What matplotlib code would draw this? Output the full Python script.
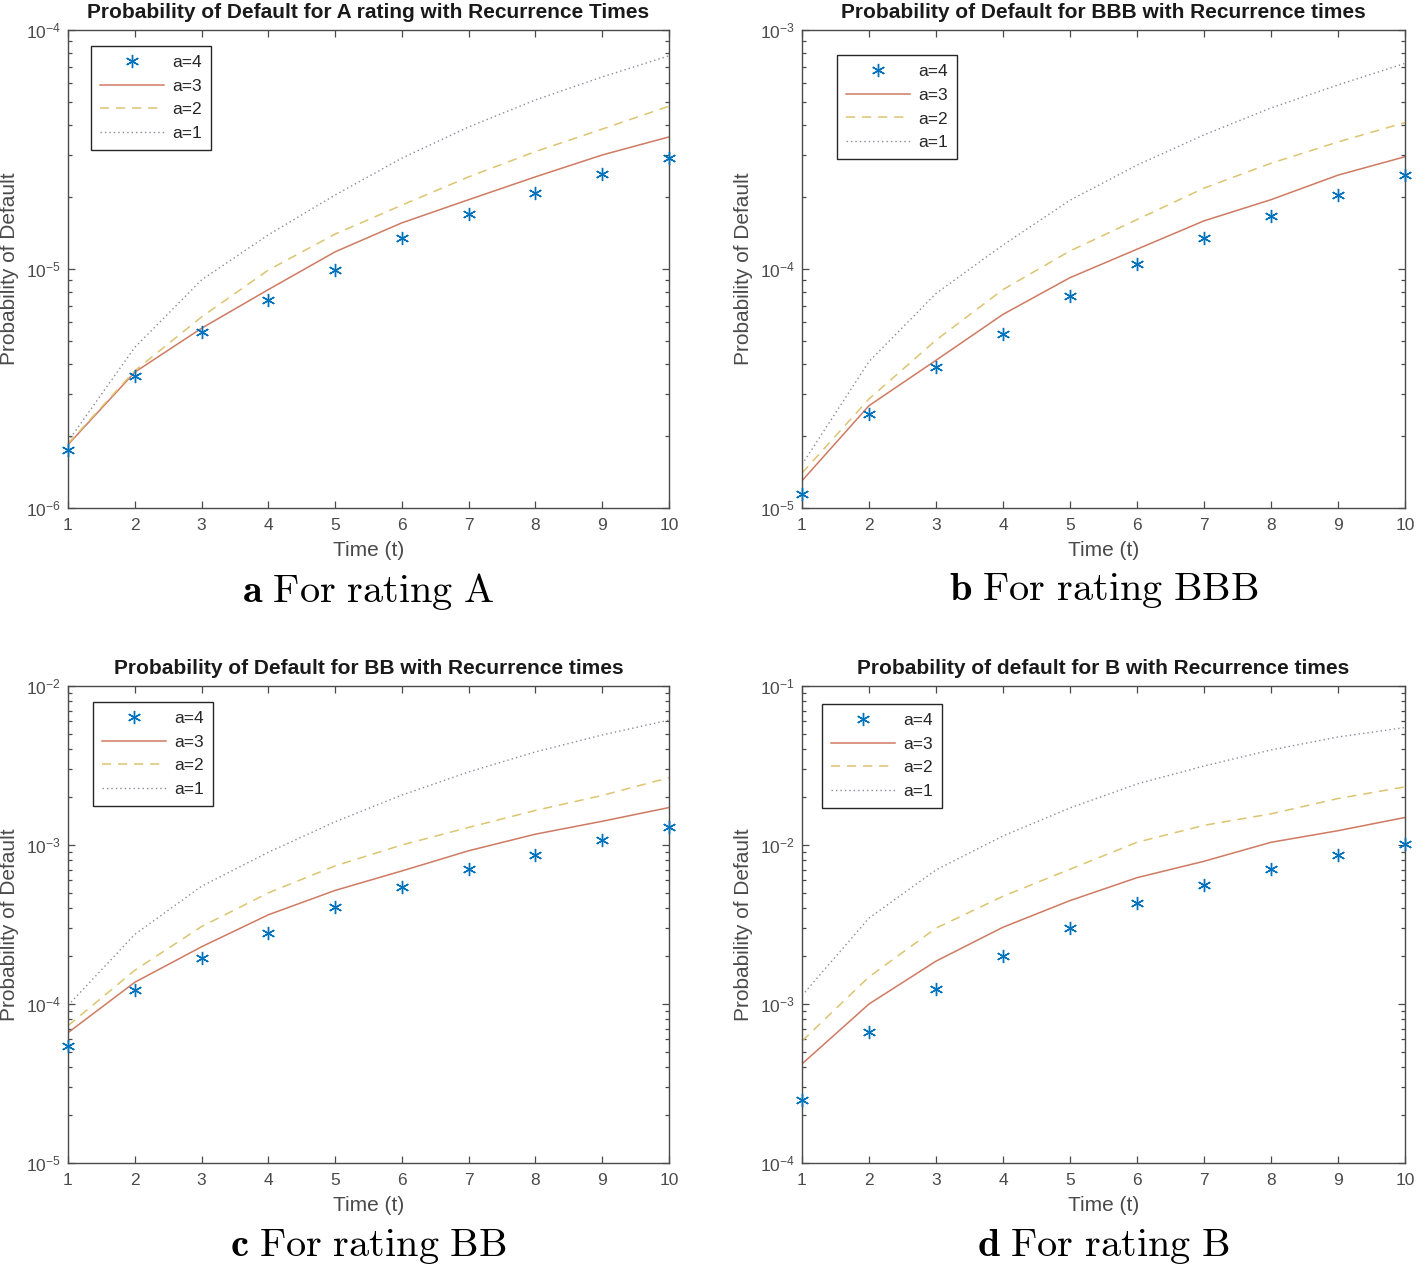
import numpy as np
import matplotlib.pyplot as plt
from matplotlib.ticker import LogLocator, NullFormatter

plt.rcParams['font.family'] = ['Liberation Sans', 'DejaVu Sans']
plt.rcParams['mathtext.default'] = 'regular'

# Time axis
t = np.arange(1, 11)

# Panel a: rating A
a_a4 = [1.75e-6, 3.55e-6, 5.45e-6, 7.4e-6, 9.95e-6, 1.35e-5, 1.7e-5, 2.07e-5, 2.5e-5, 2.92e-5]
a_a3 = [1.84e-6, 3.7e-6, 5.65e-6, 8.2e-6, 1.18e-5, 1.56e-5, 1.95e-5, 2.43e-5, 3.0e-5, 3.57e-5]
a_a2 = [1.86e-6, 3.75e-6, 6.3e-6, 9.9e-6, 1.4e-5, 1.85e-5, 2.43e-5, 3.1e-5, 3.85e-5, 4.8e-5]
a_a1 = [1.9e-6, 4.7e-6, 9.0e-6, 1.39e-5, 2.04e-5, 2.91e-5, 3.93e-5, 5.1e-5, 6.36e-5, 7.8e-5]

# Panel b: rating BBB
b_a4 = [1.14e-5, 2.47e-5, 3.88e-5, 5.35e-5, 7.7e-5, 1.05e-4, 1.35e-4, 1.67e-4, 2.04e-4, 2.47e-4]
b_a3 = [1.3e-5, 2.68e-5, 4.15e-5, 6.46e-5, 9.2e-5, 1.21e-4, 1.59e-4, 1.95e-4, 2.47e-4, 2.95e-4]
b_a2 = [1.4e-5, 2.86e-5, 5.04e-5, 8.2e-5, 1.19e-4, 1.61e-4, 2.18e-4, 2.77e-4, 3.4e-4, 4.1e-4]
b_a1 = [1.52e-5, 4.1e-5, 7.9e-5, 1.26e-4, 1.94e-4, 2.72e-4, 3.64e-4, 4.72e-4, 5.89e-4, 7.25e-4]

# Panel c: rating BB
c_a4 = [5.45e-5, 1.22e-4, 1.94e-4, 2.8e-4, 4.1e-4, 5.48e-4, 7.1e-4, 8.7e-4, 1.07e-3, 1.29e-3]
c_a3 = [6.6e-5, 1.37e-4, 2.29e-4, 3.64e-4, 5.18e-4, 6.87e-4, 9.2e-4, 1.17e-3, 1.41e-3, 1.72e-3]
c_a2 = [7.3e-5, 1.63e-4, 3.07e-4, 5.0e-4, 7.39e-4, 1.0e-3, 1.29e-3, 1.65e-3, 2.05e-3, 2.65e-3]
c_a1 = [9.8e-5, 2.74e-4, 5.5e-4, 9.0e-4, 1.4e-3, 2.06e-3, 2.88e-3, 3.85e-3, 4.92e-3, 6.1e-3]

# Panel d: rating B
d_a4 = [2.5e-4, 6.7e-4, 1.24e-3, 2.0e-3, 3.02e-3, 4.3e-3, 5.58e-3, 7.1e-3, 8.7e-3, 1.02e-2]
d_a3 = [4.2e-4, 1.0e-3, 1.86e-3, 3.04e-3, 4.47e-3, 6.23e-3, 7.9e-3, 1.04e-2, 1.23e-2, 1.49e-2]
d_a2 = [5.85e-4, 1.48e-3, 3.0e-3, 4.76e-3, 7.04e-3, 1.04e-2, 1.33e-2, 1.57e-2, 1.96e-2, 2.32e-2]
d_a1 = [1.13e-3, 3.47e-3, 6.97e-3, 1.14e-2, 1.71e-2, 2.42e-2, 3.14e-2, 3.96e-2, 4.78e-2, 5.48e-2]

titles = ['Probability of Default for A rating with Recurrence Times',
          'Probability of Default for BBB with Recurrence times',
          'Probability of Default for BB with Recurrence times',
          'Probability of default for B with Recurrence times']
captions = [('a', 'For rating A'), ('b', 'For rating BBB'),
            ('c', 'For rating BB'), ('d', 'For rating B')]
ylims = [(1e-6, 1e-4), (1e-5, 1e-3), (1e-5, 1e-2), (1e-4, 1e-1)]
series = [(a_a4, a_a3, a_a2, a_a1), (b_a4, b_a3, b_a2, b_a1),
          (c_a4, c_a3, c_a2, c_a1), (d_a4, d_a3, d_a2, d_a1)]
# legend offsets (x, y) from the axes top-left, px
leg_off = [(23, 16), (35, 25), (25, 16), (20, 18)]

W, H = 1416, 1266
fig = plt.figure(figsize=(W / 100, H / 100), dpi=100)

boxes = [(68, 30, 601, 478), (802, 30, 603, 478),
         (68, 686, 601, 477), (802, 686, 603, 477)]

gray = '#4a4a4a'
for i, (x0, y0, w, h) in enumerate(boxes):
    ax = fig.add_axes([x0 / W, 1 - (y0 + h) / H, w / W, h / H])
    s4, s3, s2, s1 = series[i]
    ax.plot(t, s4, linestyle='none', marker=(6, 2, 0), markersize=9.5,
            markeredgewidth=1.0, color='#0072BD', label='a=4', clip_on=False,
            zorder=5)
    ax.plot(t, s3, '-', color='#CF7A62', lw=1.1, label='a=3')
    ax.plot(t, s2, color='#DCC470', lw=1.1, linestyle=(0, (6, 4.5)), label='a=2')
    ax.plot(t, s1, color='#8E8896', lw=1.0, linestyle=(0, (1, 2.2)), label='a=1')
    ax.set_yscale('log')
    ax.set_xlim(1, 10)
    ax.set_ylim(*ylims[i])
    ax.set_xticks(t)
    ax.yaxis.set_major_locator(LogLocator(base=10, numticks=10))
    ax.yaxis.set_minor_locator(LogLocator(base=10, subs=np.arange(2, 10), numticks=20))
    ax.yaxis.set_minor_formatter(NullFormatter())
    ax.tick_params(which='both', direction='in', top=True, right=True,
                   colors=gray, labelsize=12.5, width=0.9)
    ax.tick_params(which='major', length=5, pad=7)
    ax.tick_params(which='minor', length=3)
    ax.tick_params(axis='y', which='major', pad=5)
    for sp in ax.spines.values():
        sp.set_color(gray)
        sp.set_linewidth(1.0)
    ax.set_title(titles[i], fontsize=15, fontweight='bold', pad=9, color='#1a1a1a')
    ax.set_xlabel('Time (t)', fontsize=15, color=gray, labelpad=6)
    ax.set_ylabel('Probability of Default', fontsize=15, color=gray, labelpad=5)
    ox, oy = leg_off[i]
    leg = ax.legend(loc='upper left', bbox_to_anchor=(ox / w, 1 - oy / h),
                    borderaxespad=0, fontsize=12.5, handlelength=3.7,
                    fancybox=False, framealpha=1, edgecolor='#262626',
                    labelspacing=0.5, handletextpad=0.5, borderpad=0.5,
                    numpoints=1)
    leg.get_frame().set_linewidth(1.0)
    for txt in leg.get_texts():
        txt.set_color('#262626')
    letter, cap = captions[i]
    fig.text((x0 + w / 2) / W, 1 - (y0 + h + 83) / H,
             r'$\mathbf{%s}$ $\mathrm{%s}$' % (letter, cap.replace(' ', r'\ ')),
             ha='center', va='center', fontsize=29, math_fontfamily='cm')

fig.savefig('out.png', dpi=100)
